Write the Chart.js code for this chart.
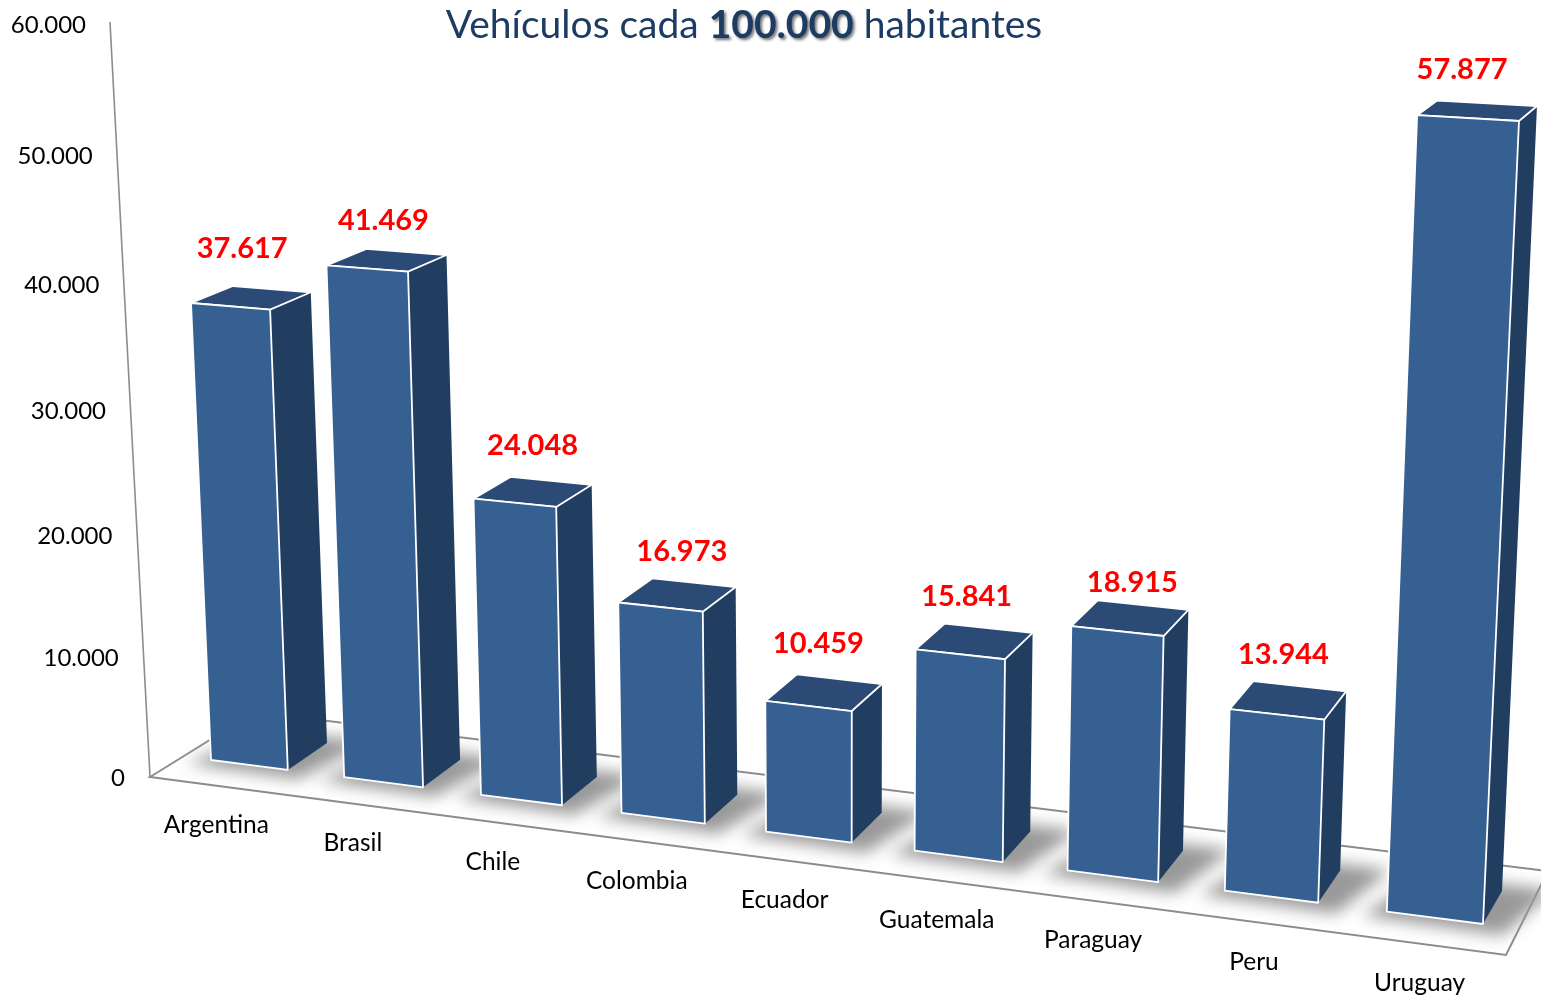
<!DOCTYPE html>
<html>
<head>
<meta charset="utf-8">
<title>Vehículos cada 100.000 habitantes</title>
<script src="https://cdn.jsdelivr.net/npm/chart.js@4/dist/chart.umd.min.js"></script>
<style>
  html, body { margin: 0; padding: 0; background: #fff; }
  canvas { display: block; }
</style>
</head>
<body>
<canvas id="vehiculosChart" width="1541" height="996"></canvas>
<script>
const countries = ['Argentina','Brasil','Chile','Colombia','Ecuador','Guatemala','Paraguay','Peru','Uruguay'];
const vehicles = [37617,41469,24048,16973,10459,15841,18915,13944,57877];

const FONT = 'Lato, "Open Sans", sans-serif';
const COL_FRONT = '#365f92', COL_SIDE = '#213e60', COL_TOP = '#2b4a75';
const COL_AXIS = '#8c8c8c', COL_TITLE = '#1c3c63';

// flat chart position (a = x fraction, b = value fraction) -> picture
const frontPlane = solveH([[.02333,0,211,760],[.97667,0,1483,924],[.02333,.62695,191,303],[.97667,.96462,1519,121]]);
const backPlane  = solveH([[.08778,0,327,743],[.97667,0,1502,891],[.02333,.62695,233,286],[.97667,.96462,1537,106]]);
// floor frame and value axis line
const floor = [[150,777],[1506,955],[1548,871],[255,712]];
const axisTopEnd = [110,22];
const axisBottom = [125,778], axisTop = [86,25], AXIS_BEND = -0.0517;
// the value labels were placed by hand in the original, small per-label shifts
const labelShiftX = [-5,2,6,12,3,2,13,7,-3];
const labelShiftY = [-6,2,-3,1,-5,-1,7,-3,-2];

function solveH(pts){
  const m = [];
  pts.forEach(([a,b,x,y])=>{
    m.push([a,b,1,0,0,0,-a*x,-b*x,x]);
    m.push([0,0,0,a,b,1,-a*y,-b*y,y]);
  });
  for(let i=0;i<8;i++){
    let p = i;
    for(let r=i+1;r<8;r++) if(Math.abs(m[r][i])>Math.abs(m[p][i])) p = r;
    [m[i],m[p]] = [m[p],m[i]];
    for(let r=0;r<8;r++){
      if(r===i) continue;
      const f = m[r][i]/m[i][i];
      for(let c=i;c<9;c++) m[r][c] -= f*m[i][c];
    }
  }
  return m.map((row,i)=>row[8]/row[i]);
}
function applyH(h,a,b){
  const w = h[6]*a+h[7]*b+1;
  return [(h[0]*a+h[1]*b+h[2])/w,(h[3]*a+h[4]*b+h[5])/w];
}
function project(a,b,d){
  const f = applyH(frontPlane,a,b), k = applyH(backPlane,a,b);
  return [f[0]+(k[0]-f[0])*d, f[1]+(k[1]-f[1])*d];
}
function poly(ctx,pts,fill,stroke){
  ctx.beginPath();
  pts.forEach((p,i)=> i ? ctx.lineTo(p[0],p[1]) : ctx.moveTo(p[0],p[1]));
  ctx.closePath();
  if(fill){ ctx.fillStyle = fill; ctx.fill(); }
  if(stroke){ ctx.strokeStyle = stroke; ctx.lineWidth = 1.8; ctx.lineJoin = 'round'; ctx.stroke(); }
}
const fmt = v => String(v).replace(/\B(?=(\d{3})+$)/g,'.');

// the bars are drawn from the bar elements, through the projection
const perspectivePlugin = {
  id: 'perspective',
  beforeDatasetDraw(chart, args){
    const ctx = chart.ctx, W = chart.width;
    const ys = chart.scales.y, xs = chart.scales.x;
    const fracOf = v => (ys.bottom-ys.getPixelForValue(v))/(ys.bottom-ys.top);
    const bars = args.meta.data;

    ctx.save();
    // floor frame and value axis
    ctx.strokeStyle = COL_AXIS; ctx.lineWidth = 2;
    poly(ctx,floor,null,null);
    ctx.stroke();
    ctx.lineWidth = 1.6;
    ctx.beginPath();
    ctx.moveTo(...axisTopEnd); ctx.lineTo(...floor[0]);
    ctx.stroke();

    // soft shadows on the floor
    ctx.save();
    ctx.filter = 'blur(8px)';
    bars.forEach(el=>{
      const l = (el.x-el.width/2)/W, r = (el.x+el.width/2)/W;
      poly(ctx,[project(l-.014,0,-.2),project(r+.016,0,-.25),project(r+.032,0,1.2),project(l+.01,0,1.2)],'#999999');
    });
    ctx.restore();

    // bars, left to right
    bars.forEach(el=>{
      const l = (el.x-el.width/2)/W, r = (el.x+el.width/2)/W;
      const t = (ys.bottom-el.y)/(ys.bottom-ys.top);
      poly(ctx,[project(r,0,0),project(r,t,0),project(r,t,1),project(r,0,1)],COL_SIDE);
      poly(ctx,[project(l,t,0),project(r,t,0),project(r,t,1),project(l,t,1)],COL_TOP,'#fff');
      poly(ctx,[project(l,0,0),project(r,0,0),project(r,t,0),project(l,t,0)],COL_FRONT,'#fff');
    });

    // value labels
    ctx.fillStyle = '#ff0000';
    ctx.font = 'bold 29px '+FONT;
    ctx.textAlign = 'center'; ctx.textBaseline = 'middle';
    bars.forEach((el,i)=>{
      const a = el.x/W, t = (ys.bottom-el.y)/(ys.bottom-ys.top);
      const p = project(a,t,0);
      ctx.fillText(fmt(vehicles[i]), p[0]+18-22*a+labelShiftX[i], p[1]-60+14*t+labelShiftY[i]);
    });

    // category labels
    ctx.fillStyle = '#000';
    ctx.font = '24.5px '+FONT;
    countries.forEach((name,i)=>{
      const a = xs.getPixelForValue(i)/W;
      const p = project(a,0,0);
      ctx.fillText(name, p[0]-34+20*a, p[1]+60+6*a);
    });

    // value axis labels
    ctx.font = '24px '+FONT;
    ctx.textAlign = 'right';
    ys.ticks.forEach(tick=>{
      const b = fracOf(tick.value);
      const w = b*(1+AXIS_BEND)/(1+AXIS_BEND*b);
      ctx.fillText(fmt(tick.value),
        axisBottom[0]+(axisTop[0]-axisBottom[0])*w,
        axisBottom[1]+(axisTop[1]-axisBottom[1])*w);
    });

    // title with its bold, shadowed number
    const parts = [['Vehículos cada ','39px '],['100.000','bold 39px '],[' habitantes','39px ']];
    ctx.textAlign = 'left';
    ctx.fillStyle = COL_TITLE;
    let total = 0;
    parts.forEach(([s,f])=>{ ctx.font = f+FONT; total += ctx.measureText(s).width; });
    let x = 744-total/2;
    parts.forEach(([s,f],i)=>{
      ctx.font = f+FONT;
      if(i===1){ ctx.shadowColor = 'rgba(0,0,0,.55)'; ctx.shadowBlur = 3; ctx.shadowOffsetX = 2; ctx.shadowOffsetY = 2; }
      else { ctx.shadowColor = 'transparent'; }
      ctx.fillText(s,x,25);
      x += ctx.measureText(s).width;
    });
    ctx.restore();
    return false;
  }
};

new Chart(document.getElementById('vehiculosChart').getContext('2d'), {
  type: 'bar',
  data: {
    labels: countries,
    datasets: [{ label: 'Vehículos cada 100.000 habitantes', data: vehicles, backgroundColor: COL_FRONT, barPercentage: .58, categoryPercentage: 1 }]
  },
  options: {
    responsive: false,
    animation: false,
    layout: { padding: 0 },
    plugins: { legend: { display: false }, tooltip: { enabled: false } },
    scales: {
      x: { display: false, ticks: { autoSkip: false } },
      y: { display: false, min: 0, max: 60000, ticks: { stepSize: 10000 } }
    }
  },
  plugins: [perspectivePlugin]
});
</script>
</body>
</html>
